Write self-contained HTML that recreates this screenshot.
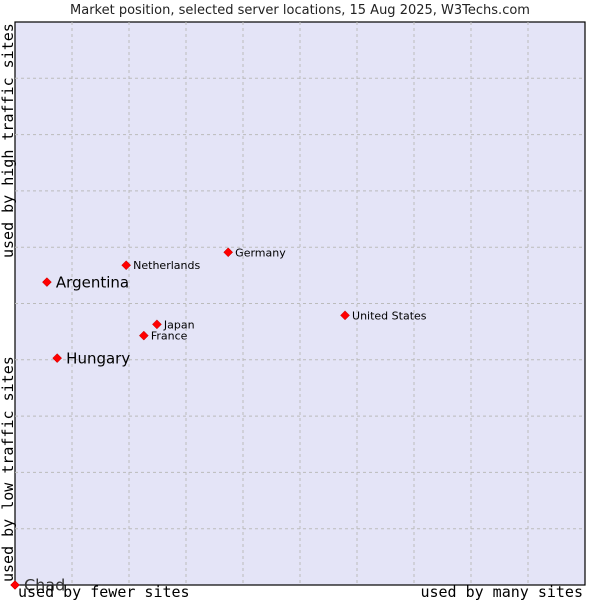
<!DOCTYPE html>
<html><head><meta charset="utf-8"><style>
body{margin:0;background:#fff;width:600px;height:600px;overflow:hidden}
svg{display:block;font-family:"DejaVu Sans","Liberation Sans",sans-serif}
</style></head><body>
<svg id="chart" width="600" height="600">
<text x="300" y="14" text-anchor="middle" font-size="13" fill="#222">Market position, selected server locations, 15 Aug 2025, W3Techs.com</text>
<rect x="15" y="22" width="570" height="563" fill="#e4e4f7" stroke="#000" stroke-width="1.2"/>
<g id="grid"></g>
<g id="points"></g>
<text transform="translate(13,258) rotate(-90)" font-family="DejaVu Sans Mono,Liberation Mono,monospace" font-size="15" fill="#000">used by high traffic sites</text>
<text transform="translate(13,582) rotate(-90)" font-family="DejaVu Sans Mono,Liberation Mono,monospace" font-size="15" fill="#000">used by low traffic sites</text>
<text x="18" y="597" font-family="DejaVu Sans Mono,Liberation Mono,monospace" font-size="15" fill="#000">used by fewer sites</text>
<text x="583" y="597" text-anchor="end" font-family="DejaVu Sans Mono,Liberation Mono,monospace" font-size="15" fill="#000">used by many sites</text>
</svg>
<script>
const countries=["Chad","Argentina","Hungary","Netherlands","Germany","Japan","France","United States"];
const xValues=[0,5.6,7.4,19.5,37.4,24.9,22.6,57.9];
const yValues=[0,53.8,40.3,56.8,59.1,46.3,44.3,47.9];
const bigLabel=[true,true,true,false,false,false,false,false];
const NS="http://www.w3.org/2000/svg";
const X0=15,X1=585,Y0=585,Y1=22;
function sx(v){return X0+(X1-X0)*v/100;}
function sy(v){return Y0-(Y0-Y1)*v/100;}
const grid=document.getElementById('grid');
for(let i=1;i<10;i++){
 const lv=document.createElementNS(NS,'line');
 lv.setAttribute('x1',sx(i*10));lv.setAttribute('x2',sx(i*10));lv.setAttribute('y1',Y1);lv.setAttribute('y2',Y0);
 lv.setAttribute('stroke','#bbb');lv.setAttribute('stroke-dasharray','3,3');
 
 
 grid.appendChild(lv);
 const lh=document.createElementNS(NS,'line');
 lh.setAttribute('y1',sy(i*10));lh.setAttribute('y2',sy(i*10));lh.setAttribute('x1',X0);lh.setAttribute('x2',X1);
 lh.setAttribute('stroke','#bbb');lh.setAttribute('stroke-dasharray','3,3');
 
 
 grid.appendChild(lh);
}
const pts=document.getElementById('points');
countries.forEach((c,i)=>{
 const x=sx(xValues[i]),y=sy(yValues[i]);
 const d=document.createElementNS(NS,'path');
 d.setAttribute('d',`M${x},${y-4.5}L${x+4.5},${y}L${x},${y+4.5}L${x-4.5},${y}Z`);
 d.setAttribute('fill','#f00');d.setAttribute('stroke','#b00');d.setAttribute('stroke-width','0.5');
 
 
 pts.appendChild(d);
 const t=document.createElementNS(NS,'text');
 t.setAttribute('x',x+(bigLabel[i]?9:7));t.setAttribute('y',y+(bigLabel[i]?5.5:4));
 t.setAttribute('font-size',c==="Chad"?16:(bigLabel[i]?15:11));
 t.setAttribute('fill',c==="Chad"?'#333':'#000');
 t.textContent=c;
 
 
 pts.appendChild(t);
});
</script>
</body></html>
